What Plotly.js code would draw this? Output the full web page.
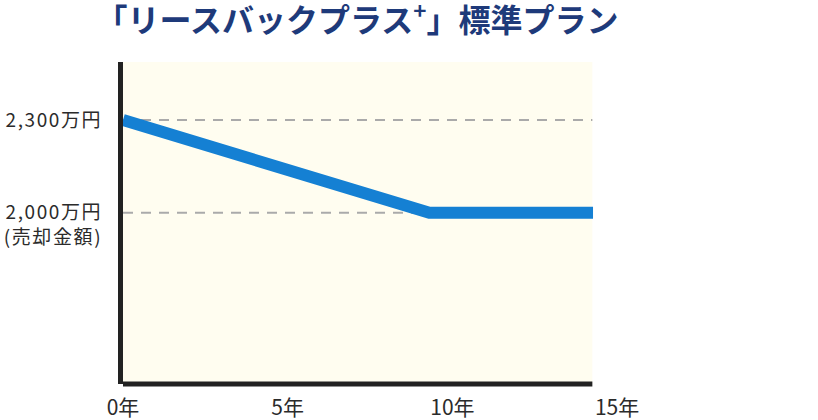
<!DOCTYPE html>
<html>
<head>
<meta charset="utf-8">
<script src="https://cdn.plot.ly/plotly-3.0.1.min.js"></script>
<style>
html,body{margin:0;padding:0;background:#fff;}
#chart{width:818px;height:420px;}
.ytick text{letter-spacing:1.6px;}
</style>
</head>
<body>
<div id="chart"></div>
<script>
// ---- data ----
const years = [0, 9.3, 14.27];          // 年 (x)
const prices = [2300, 2000, 2000];      // 万円 (y)
const xTickVals = [0, 5, 10, 15];
const xTickText = ['0年', '5年', '10年', '15年'];
const yTickVals = [2000, 2300];
const yTickText = ['\u3000<br>2,000万円<br>(売却金額)', '2,300万円'];
const titleText = '「リースバックプラス<sup>+</sup>」標準プラン';
const PLOT_END = 14.25; // where the chart panel ends (years)

const FONT = '"Noto Sans CJK JP", "Noto Sans", sans-serif';

const shapes = [
  {type:'rect', xref:'x', yref:'paper', x0:0, x1:PLOT_END, y0:0, y1:1,
   fillcolor:'#fffdf0', line:{width:0}, layer:'below'},
  {type:'line', xref:'x', yref:'paper', x0:-0.15, x1:PLOT_END, y0:0, y1:0,
   line:{color:'#222', width:5}, layer:'above'}
];
yTickVals.forEach(v => shapes.push({
  type:'line', xref:'x', yref:'y', x0:0, x1:PLOT_END, y0:v, y1:v,
  line:{color:'#aaaaaa', width:2, dash:'10px,8px'}, layer:'below'
}));

const data = [{
  x: years, y: prices, type:'scatter', mode:'lines',
  line:{color:'#1580d3', width:12},
  hoverinfo:'skip'
}];

const layout = {
  width:818, height:420,
  paper_bgcolor:'#ffffff', plot_bgcolor:'rgba(0,0,0,0)',
  margin:{l:123, r:168, t:62, b:36, pad:0},
  showlegend:false,
  font:{family:FONT, color:'#2b2b2b'},
  title:{text:titleText, font:{family:FONT, size:32, color:'#1e3a7a', weight:'bold'},
         xref:'container', yref:'container', x:357/818, xanchor:'center', y:1 - 21/420, yanchor:'middle'},
  xaxis:{range:[0,16], tickvals:xTickVals, ticktext:xTickText, showgrid:false, zeroline:false,
         showline:false, ticks:'', tickfont:{size:21, color:'#2b2b2b'}, fixedrange:true,
         ticklabelstandoff:9},
  yaxis:{range:[1446,2488], tickvals:yTickVals, ticktext:yTickText, showgrid:false, zeroline:false,
         showline:true, linecolor:'#222', linewidth:5, ticks:'', tickfont:{size:19, color:'#2b2b2b'},
         fixedrange:true, ticklabelstandoff:12},
  shapes:shapes
};

Plotly.newPlot('chart', data, layout, {staticPlot:true, displayModeBar:false});
</script>
</body>
</html>
